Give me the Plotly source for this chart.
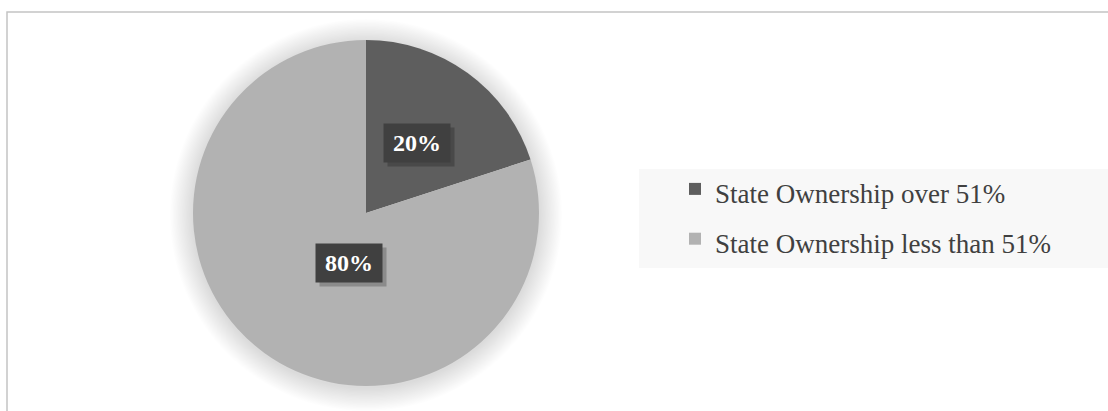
import math
import plotly.graph_objects as go

labels = ["State Ownership over 51%", "State Ownership less than 51%"]
values = [20, 80]
colors = ["#5e5e5e", "#b2b2b2"]

W, H = 1108, 411
# pie geometry (pixels)
CX, CY, R = 366, 213, 173

def px(x):
    return x / W

def py(y):
    return 1 - y / H

SERIF = "Liberation Serif, Times New Roman, serif"

fig = go.Figure()

fig.add_trace(go.Pie(
    labels=[f"<span style='font-size:27px'>{l}</span>" for l in labels],
    values=values,
    sort=False,
    direction="clockwise",
    rotation=0,
    marker=dict(colors=colors, line=dict(width=0)),
    textinfo="none",
    hovertemplate="%{label}: %{percent}<extra></extra>",
    domain=dict(x=[px(CX - R), px(CX + R)], y=[py(CY + R), py(CY - R)]),
    showlegend=True,
))

shapes = []
# chart border
shapes.append(dict(type="rect", xref="paper", yref="paper",
                   x0=px(7), x1=px(1120), y0=py(430), y1=py(12),
                   line=dict(color="#c4c4c4", width=1.5), fillcolor="rgba(0,0,0,0)", layer="below"))
# soft shadow around the pie
for i in range(18):
    rr = R + 1 + i * 1.3
    shapes.append(dict(type="circle", xref="paper", yref="paper",
                       x0=px(CX - rr), x1=px(CX + rr), y0=py(CY + rr + 2), y1=py(CY - rr + 2),
                       line=dict(width=0), fillcolor="rgba(0,0,0,0.0065)", layer="below"))
# legend background
shapes.append(dict(type="rect", xref="paper", yref="paper",
                   x0=px(639), x1=px(1120), y0=py(268), y1=py(169),
                   line=dict(width=0), fillcolor="#f8f8f8", layer="below"))

annotations = []
total = sum(values)
start = 0.0
for v in values:
    mid = (start + v / 2) / total * 2 * math.pi
    start += v
    lx = CX + 0.5 * R * math.sin(mid)
    ly = CY - 0.5 * R * math.cos(mid)
    txt = f"{round(v / total * 100)}%"
    # shadow box
    annotations.append(dict(x=px(lx + 4), y=py(ly + 4), xref="paper", yref="paper",
                            text="", showarrow=False, width=66, height=38,
                            bgcolor="rgba(0,0,0,0.22)", borderpad=0))
    annotations.append(dict(x=px(lx), y=py(ly), xref="paper", yref="paper",
                            text=f"<b>{txt}</b>", showarrow=False, width=66, height=38,
                            bgcolor="#404040", borderpad=0,
                            font=dict(family=SERIF, size=24, color="#ffffff")))

fig.update_layout(
    width=W, height=H,
    margin=dict(l=0, r=0, t=0, b=0),
    paper_bgcolor="#ffffff",
    plot_bgcolor="#ffffff",
    shapes=shapes,
    annotations=annotations,
    legend=dict(
        x=px(675), y=py(159), xanchor="left", yanchor="top",
        bgcolor="rgba(0,0,0,0)",
        font=dict(family=SERIF, size=36, color="#404040"),
        itemwidth=30,
    ),
)

fig.write_html("out.html")
